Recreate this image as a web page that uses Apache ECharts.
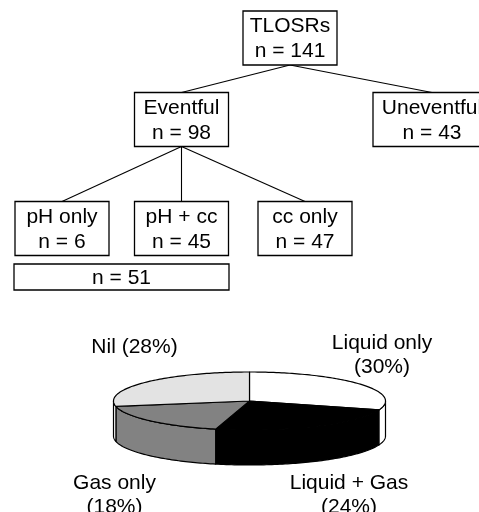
<!DOCTYPE html>
<html>
<head>
<meta charset="utf-8">
<script src="https://cdn.jsdelivr.net/npm/echarts@6/dist/echarts.min.js"></script>
<style>
  html, body { margin: 0; padding: 0; background: #fff; }
  #chart-container { width: 479px; height: 512px; }
</style>
</head>
<body>
<div id="chart-container"></div>
<script>
// tree boxes
var boxNames = ["TLOSRs", "Eventful", "Uneventful", "pH only", "pH + cc", "cc only", ""];
var boxCounts = [141, 98, 43, 6, 45, 47, 51];
var links = [[0, 1], [0, 2], [1, 3], [1, 4], [1, 5]];

// pie
var pieNames = ["Liquid only", "Liquid + Gas", "Gas only", "Nil"];
var pieValues = [30, 24, 18, 28];

// layout (pixel space of the hidden axes)
var boxLayout = [
  [290, 38, 94, 54],
  [181.5, 119.5, 94, 54],
  [432, 119.5, 118, 54],
  [62, 228.5, 94, 54],
  [181.5, 228.5, 94, 54],
  [305, 228.5, 94, 54],
  [121.5, 277, 215, 26]
];
var pieCenter = [249.5, 401];
var pieRadius = [136, 29];
var pieDepth = 35;
var pieTopColors = ["#ffffff", "#000000", "#828282", "#e3e3e3"];
var pieSideColors = ["#ffffff", "#000000", "#828282", "#fbfbfb"];
var pieLabelPos = [[382, 355], [349, 495], [114.5, 495], [134.5, 347]];
var pieLabelSep = ["\n", "\n", "\n", " "];
var FONT = '21px "Liberation Sans", Arial, sans-serif';

var dom = document.getElementById("chart-container");
var myChart = echarts.init(dom, null, { renderer: "canvas" });
var option;

var total = pieValues.reduce(function (a, b) { return a + b; }, 0);
var startAngles = [];
var acc = -Math.PI / 2;
pieValues.forEach(function (v) {
  startAngles.push(acc);
  acc += (v / total) * Math.PI * 2;
});

function arcPoints(c, r, a, b, dy) {
  var pts = [];
  var n = Math.max(2, Math.ceil((b - a) / 0.02));
  for (var k = 0; k <= n; k++) {
    var t = a + ((b - a) * k) / n;
    pts.push([c[0] + r[0] * Math.cos(t), c[1] + r[1] * Math.sin(t) + dy]);
  }
  return pts;
}

function renderBox(params, api) {
  var i = params.dataIndex;
  var p = api.coord([api.value(0), api.value(1)]);
  var s = api.size([api.value(2), api.value(3)]);
  var txt = boxNames[i] ? boxNames[i] + "\nn = " + boxCounts[i] : "n = " + boxCounts[i];
  return {
    type: "group",
    children: [
      {
        type: "rect",
        shape: { x: p[0] - s[0] / 2, y: p[1] - s[1] / 2, width: s[0], height: s[1] },
        style: { fill: "#fff", stroke: "#000", lineWidth: 1.3 }
      },
      {
        type: "text",
        style: {
          text: txt, x: p[0], y: p[1] + 1, align: "center", verticalAlign: "middle",
          font: FONT, lineHeight: 25, fill: "#000"
        }
      }
    ]
  };
}

function renderSlice(params, api) {
  var i = params.dataIndex;
  var c = api.coord(pieCenter);
  var r = api.size(pieRadius);
  var d = api.size([0, pieDepth])[1];
  var a = startAngles[i];
  var b = a + (api.value(0) / total) * Math.PI * 2;
  var children = [];
  var lo = Math.max(a, 0), hi = Math.min(b, Math.PI);
  if (lo < hi) {
    var side = arcPoints(c, r, lo, hi, 0).concat(arcPoints(c, r, lo, hi, d).reverse());
    children.push({
      type: "polygon",
      shape: { points: side },
      style: { fill: pieSideColors[i], stroke: "#000", lineWidth: 1.2, lineJoin: "round" }
    });
  }
  children.push({
    type: "polygon",
    shape: { points: [c].concat(arcPoints(c, r, a, b, 0)) },
    style: { fill: pieTopColors[i], stroke: "#000", lineWidth: 1.2, lineJoin: "round" }
  });
  var lp = api.coord(pieLabelPos[i]);
  children.push({
    type: "text",
    style: {
      text: pieNames[i] + pieLabelSep[i] + "(" + Math.round((api.value(0) / total) * 100) + "%)",
      x: lp[0], y: lp[1], align: "center", verticalAlign: "middle",
      font: FONT, lineHeight: 24, fill: "#000"
    }
  });
  return { type: "group", children: children };
}

option = {
  animation: false,
  grid: { left: 0, right: 0, top: 0, bottom: 0 },
  xAxis: { type: "value", min: 0, max: 479, show: false },
  yAxis: { type: "value", min: 0, max: 512, inverse: true, show: false },
  series: [
    {
      type: "lines",
      coordinateSystem: "cartesian2d",
      silent: true,
      lineStyle: { color: "#000", width: 1.1, opacity: 1 },
      data: links.map(function (l) {
        var p = boxLayout[l[0]], q = boxLayout[l[1]];
        return { coords: [[p[0], p[1] + p[3] / 2], [q[0], q[1] - q[3] / 2]] };
      })
    },
    {
      type: "custom",
      renderItem: renderBox,
      silent: true,
      data: boxLayout.map(function (b) { return b.slice(); })
    },
    {
      type: "custom",
      renderItem: renderSlice,
      silent: true,
      data: pieValues.map(function (v) { return [v]; })
    }
  ]
};

if (option && typeof option === "object") {
  myChart.setOption(option);
}

window.addEventListener("resize", myChart.resize);
</script>
</body>
</html>
